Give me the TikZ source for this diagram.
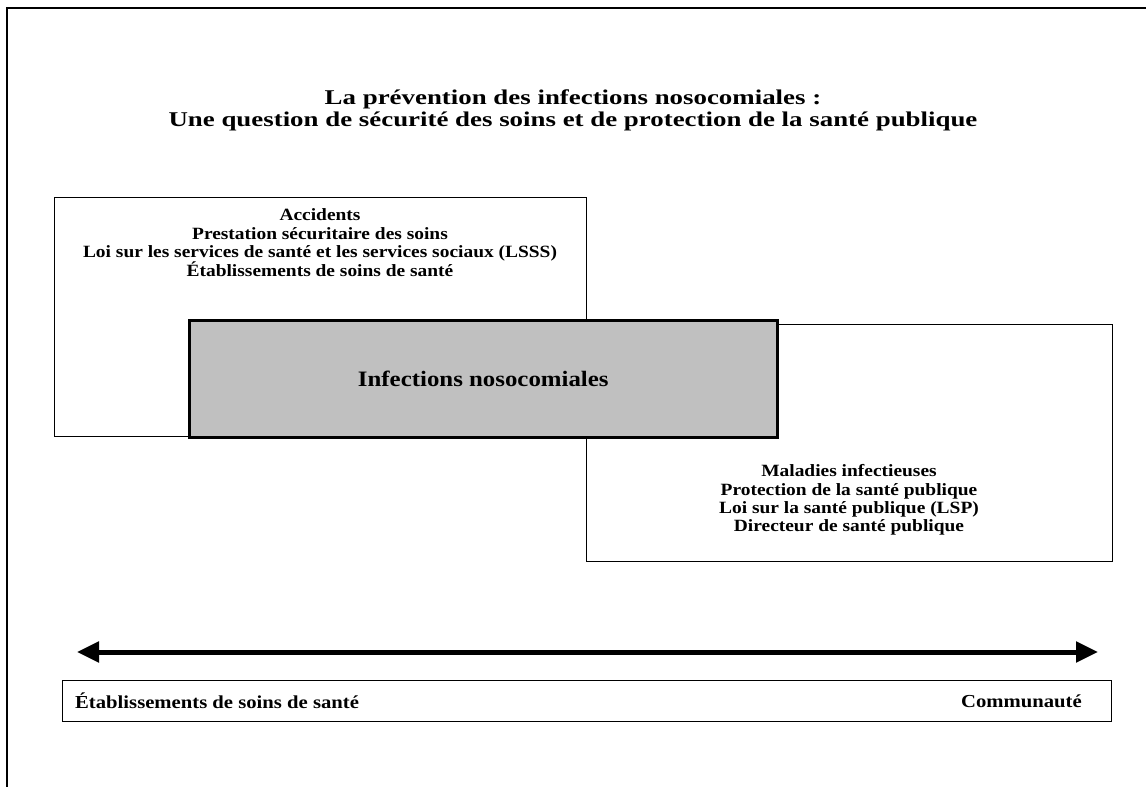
\documentclass[tikz,border=0pt]{standalone}
\usepackage{fontspec}
\setmainfont{Liberation Serif}
\newfontfamily\widebody[FakeStretch=1.13]{Liberation Serif}
\newfontfamily\widetitle[FakeStretch=1.28]{Liberation Serif}
\usetikzlibrary{arrows.meta}
\begin{document}
\begin{tikzpicture}[x=1pt,y=-1pt,
  frame/.style={line width=2pt},
  plainbox/.style={draw, line width=1.3pt, fill=white, anchor=north west, inner sep=0pt},
  graybox/.style={draw, line width=2.6pt, fill={rgb,255:red,192;green,192;blue,192}, anchor=north west, inner sep=0pt},
  boxtext/.style={align=center, font=\widebody\fontsize{17.2}{18.3}\selectfont\bfseries, inner sep=0pt},
  titletext/.style={align=center, font=\widetitle\fontsize{21}{22}\selectfont\bfseries, inner sep=0pt},
  endlabel/.style={font=\widebody\fontsize{18.3}{20}\selectfont\bfseries, inner sep=0pt},
  bigarrow/.style={line width=5pt, {Triangle[length=22pt,width=20pt]}-{Triangle[length=22pt,width=20pt]}}]
\useasboundingbox (0,0) rectangle (1146,787);
% outer frame (only top and left visible)
\coordinate (ftl) at (7,8);
\coordinate (ftr) at (1150,8);
\coordinate (fbl) at (7,790);
\draw[frame] (ftr) -- (ftl) -- (fbl);
% title
\node[titletext] (title) at (573,110) {La prévention des infections nosocomiales :\\Une question de sécurité des soins et de protection de la santé publique};
% boxes
\node[plainbox, minimum width=532pt, minimum height=239pt] (left) at (54,197) {};
\node[plainbox, minimum width=526pt, minimum height=237pt] (right) at (586,324) {};
\node[graybox, minimum width=588pt, minimum height=117pt] (noso) at (188,319) {};
\node[font=\widebody\fontsize{22}{26}\selectfont\bfseries, inner sep=0pt] (nosotext) at (noso.center) {Infections nosocomiales};
\node[boxtext] (lefttext) at (320,243) {Accidents\\Prestation sécuritaire des soins\\Loi sur les services de santé et les services sociaux (LSSS)\\Établissements de soins de santé};
\node[boxtext] (righttext) at (849,500) {Maladies infectieuses\\Protection de la santé publique\\Loi sur la santé publique (LSP)\\Directeur de santé publique};
% arrow
\coordinate (aleft) at (77,652);
\coordinate (aright) at (1098,652);
\draw[bigarrow] (aleft) -- (aright);
% bottom bar
\node[draw, line width=1.3pt, anchor=north west, inner sep=0pt, minimum width=1049pt, minimum height=41pt] (bar) at (62,680) {};
\node[endlabel, anchor=west] (estab) at (75,701) {Établissements de soins de santé};
\node[endlabel, anchor=east] (comm) at (1082,701) {Communauté};
\end{tikzpicture}
\end{document}
